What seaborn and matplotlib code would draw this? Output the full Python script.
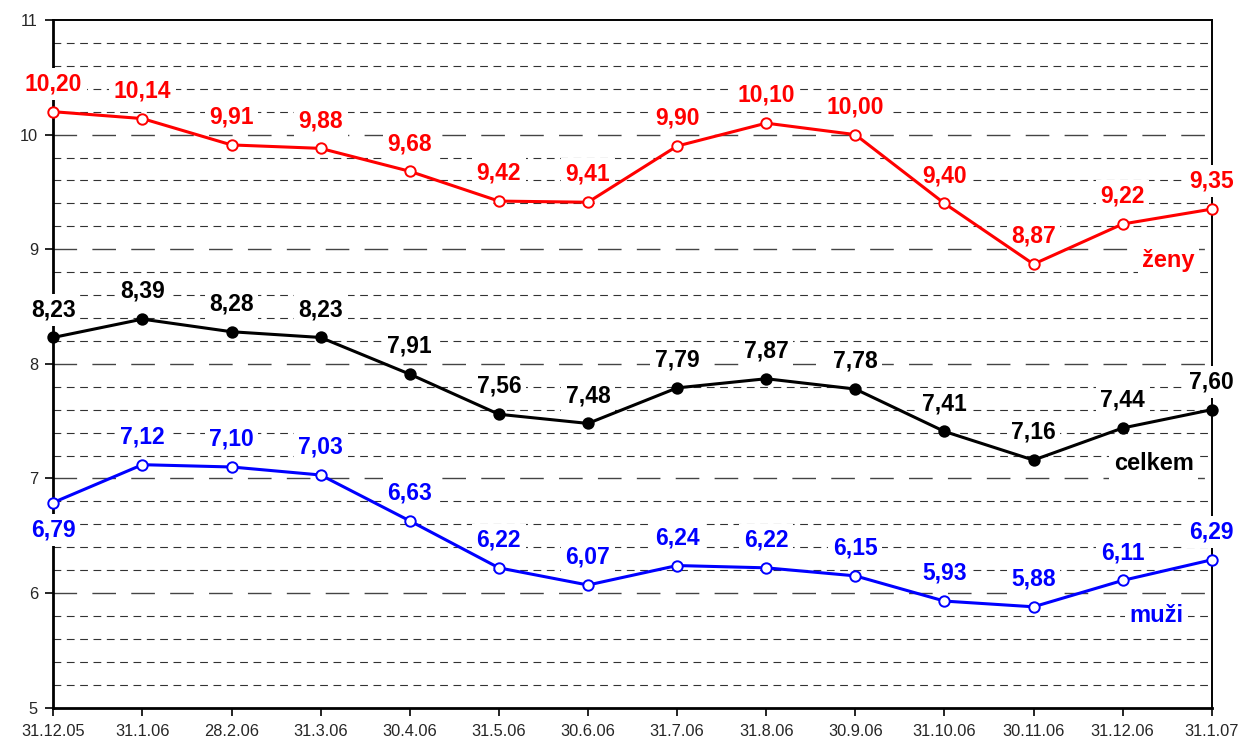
import matplotlib

matplotlib.use("Agg")
import matplotlib.pyplot as plt
import numpy as np
import pandas as pd
import seaborn as sns
from matplotlib.ticker import MultipleLocator

dates = ["31.12.05", "31.1.06", "28.2.06", "31.3.06", "30.4.06", "31.5.06", "30.6.06",
         "31.7.06", "31.8.06", "30.9.06", "31.10.06", "30.11.06", "31.12.06", "31.1.07"]
zeny = [10.20, 10.14, 9.91, 9.88, 9.68, 9.42, 9.41, 9.90, 10.10, 10.00, 9.40, 8.87, 9.22, 9.35]
celkem = [8.23, 8.39, 8.28, 8.23, 7.91, 7.56, 7.48, 7.79, 7.87, 7.78, 7.41, 7.16, 7.44, 7.60]
muzi = [6.79, 7.12, 7.10, 7.03, 6.63, 6.22, 6.07, 6.24, 6.22, 6.15, 5.93, 5.88, 6.11, 6.29]

sns.set_style("white")
plt.rcParams["font.family"] = ["Liberation Sans", "DejaVu Sans"]

df = pd.DataFrame({"idx": np.arange(len(dates)), "ženy": zeny, "celkem": celkem, "muži": muzi})

fig, ax = plt.subplots(figsize=(12.39, 7.41), dpi=100)
fig.subplots_adjust(left=0.043, right=0.978, top=0.973, bottom=0.045)

# horizontal grid: long dashes at whole numbers, short dashes every 0.2
for k in range(1, 30):
    v = 5 + k * 0.2
    if k % 5 == 0:
        ax.axhline(v, color="#444444", lw=1.0, dashes=(17, 11), zorder=0)
    else:
        ax.axhline(v, color="#333333", lw=0.8, dashes=(7, 5), zorder=0)

series = [
    ("ženy", "#FF0000", "white"),
    ("celkem", "black", "black"),
    ("muži", "#0000FF", "white"),
]
for name, col, face in series:
    sns.lineplot(data=df, x="idx", y=name, color=col, lw=2.2, marker="o", markersize=7.5,
                 markerfacecolor=face, markeredgecolor=col, markeredgewidth=1.4, ax=ax, zorder=3,
                 clip_on=False)

box = dict(boxstyle="square,pad=0.2", fc="white", ec="none")


def label(vals, col, below=()):
    for i, v in enumerate(vals):
        dy = -20 if i in below else 20
        ax.annotate(f"{v:.2f}".replace(".", ","), (i, v), xytext=(0, dy), textcoords="offset points",
                    ha="center", va="center", color=col, fontsize=16.5, fontweight="bold",
                    bbox=box, zorder=2.7, annotation_clip=False)


label(zeny, "#FF0000")
label(celkem, "black")
label(muzi, "#0000FF", below=(0,))

ax.text(12.22, 8.9, "ženy", color="#FF0000", fontsize=17, fontweight="bold", ha="left", va="center",
        bbox=box, zorder=2.7)
ax.text(11.9, 7.13, "celkem", color="black", fontsize=17, fontweight="bold", ha="left", va="center",
        bbox=box, zorder=2.7)
ax.text(12.08, 5.8, "muži", color="#0000FF", fontsize=17, fontweight="bold", ha="left", va="center",
        bbox=box, zorder=2.7)

ax.set_xlim(0, len(dates) - 1)
ax.set_ylim(5, 11)
ax.set_xticks(range(len(dates)))
ax.set_xticklabels(dates)
ax.yaxis.set_major_locator(MultipleLocator(1))
ax.tick_params(axis="both", labelsize=11.8, direction="out", length=6, width=1.2, color="black",
               left=True, bottom=True)
ax.tick_params(axis="x", pad=6)
ax.tick_params(axis="y", pad=5)
ax.set_xlabel("")
ax.set_ylabel("")
for side in ["left", "bottom"]:
    ax.spines[side].set_linewidth(2.0)
    ax.spines[side].set_color("black")
for side in ["top", "right"]:
    ax.spines[side].set_linewidth(1.4)
    ax.spines[side].set_color("black")

fig.savefig("out.png", dpi=100)
